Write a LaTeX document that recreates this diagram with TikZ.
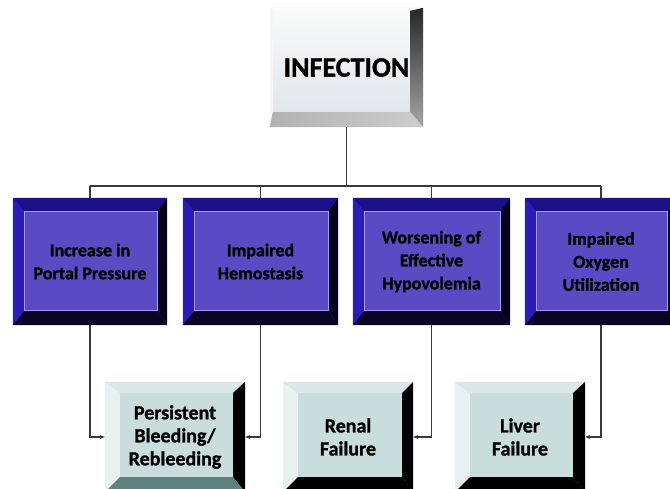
\documentclass[tikz,border=0pt]{standalone}
\usepackage{fontspec}
\setmainfont{Carlito}[BoldFeatures={FakeBold=1.2}]
\usetikzlibrary{arrows.meta}

\definecolor{pface}{HTML}{5A4AC4}
\definecolor{pedge}{HTML}{A89AF0}
\definecolor{ptop}{HTML}{1B0F8A}
\definecolor{pleft}{HTML}{2A1CB4}
\definecolor{pright}{HTML}{07031C}
\definecolor{pbottom}{HTML}{0A0428}
\definecolor{lface}{HTML}{CADDDD}
\definecolor{ltop}{HTML}{DCE8E8}
\definecolor{lleft}{HTML}{E8F0F0}
\definecolor{lbottom}{HTML}{5F8280}
\definecolor{wire}{HTML}{3A3A3A}
\definecolor{infbottom}{HTML}{DEE4E8}

% bevels round a named box: node, left, top, right, bottom widths, then
% the styles of the left, top, right and bottom faces
\newcommand{\bevels}[9]{%
  \path[#6] (#1.north west) -- ([shift={(#2pt,-#3pt)}]#1.north west)
        -- ([shift={(#2pt,#5pt)}]#1.south west) -- (#1.south west) -- cycle;
  \path[#7] (#1.north west) -- (#1.north east)
        -- ([shift={(-#4pt,-#3pt)}]#1.north east)
        -- ([shift={(#2pt,-#3pt)}]#1.north west) -- cycle;
  \path[#8] (#1.north east) -- (#1.south east)
        -- ([shift={(-#4pt,#5pt)}]#1.south east)
        -- ([shift={(-#4pt,-#3pt)}]#1.north east) -- cycle;
  \path[#9] (#1.south west) -- (#1.south east)
        -- ([shift={(-#4pt,#5pt)}]#1.south east)
        -- ([shift={(#2pt,#5pt)}]#1.south west) -- cycle;
}

\tikzset{
  infbox/.style={rectangle, inner sep=0pt, minimum width=153pt, minimum height=119pt,
    top color=white!96!gray, bottom color=infbottom, font=\bfseries\fontsize{28}{30}\selectfont},
  causebox/.style={rectangle, inner sep=0pt, minimum height=127pt, fill=pface,
    align=center, text=black, font=\bfseries\fontsize{18}{23}\selectfont},
  resultbox/.style={rectangle, inner sep=0pt, minimum height=110pt, fill=lface,
    align=center, text=black, font=\bfseries\fontsize{20}{23}\selectfont},
  bus/.style={draw=wire, line width=1.2pt},
  feed/.style={draw=wire, line width=1.2pt, -{Stealth[length=5pt,width=4pt]}},
}

\begin{document}
\begin{tikzpicture}[x=1pt,y=-1pt]
\useasboundingbox (0,0) rectangle (670,489);
\clip (0,0) rectangle (670,489);
\fill[white] (0,0) rectangle (670,489);

% top box
\node[infbox] (inf) at (346.5,67.5) {INFECTION};
\bevels{inf}{3}{3}{13}{15}{fill=white!93!gray}{fill=white!97!gray}%
  {top color=black!85, bottom color=black!35}{left color=black!30, right color=black!20}

% causes
\node[causebox, minimum width=154pt] (p1) at (90,261.5) {Increase in\\Portal Pressure};
\node[causebox, minimum width=155pt] (p2) at (260.5,261.5) {Impaired\\Hemostasis};
\node[causebox, minimum width=157pt] (p3) at (431.5,261.5) {Worsening of\\Effective\\Hypovolemia};
\node[causebox, minimum width=152pt] (p4) at (601,261.5) {Impaired\\Oxygen\\Utilization};
\foreach \p in {p1,p2,p3,p4}{
  \bevels{\p}{12}{14}{10}{15}{fill=pleft}{fill=ptop}{fill=pright}{fill=pbottom}
  \draw[pedge, line width=1pt] ([shift={(12pt,-14pt)}]\p.north west)
    rectangle ([shift={(-10pt,15pt)}]\p.south east);
}

% consequences
\node[resultbox, minimum width=140pt] (l1) at (175,437) {Persistent\\Bleeding/\\Rebleeding};
\node[resultbox, minimum width=130pt] (l2) at (348,437) {Renal\\Failure};
\node[resultbox, minimum width=130pt] (l3) at (520,437) {Liver\\Failure};
\bevels{l1}{15}{11}{12}{15}{fill=lleft}{fill=ltop}{fill=black}{fill=lbottom}
\bevels{l2}{15}{11}{11}{15}{fill=lleft}{fill=ltop}{fill=black}{fill=black}
\bevels{l3}{15}{11}{12}{15}{fill=lleft}{fill=ltop}{fill=black}{fill=black}

% tree from the top box to the causes
\coordinate (hub) at (346.5,186);
\draw[bus] (inf.south) -- (hub);
\draw[bus] (p1.north |- hub) -- (p4.north |- hub);
\foreach \p in {p1,p2,p3,p4}{ \draw[bus] (\p.north |- hub) -- (\p.north); }

% causes feeding the consequences
\draw[feed] (p1.south) |- (l1.west);
\draw[feed] (p2.south) |- (l1.east);
\draw[feed] (p3.south) |- (l2.east);
\draw[feed] (p4.south) |- (l3.east);
\end{tikzpicture}
\end{document}
